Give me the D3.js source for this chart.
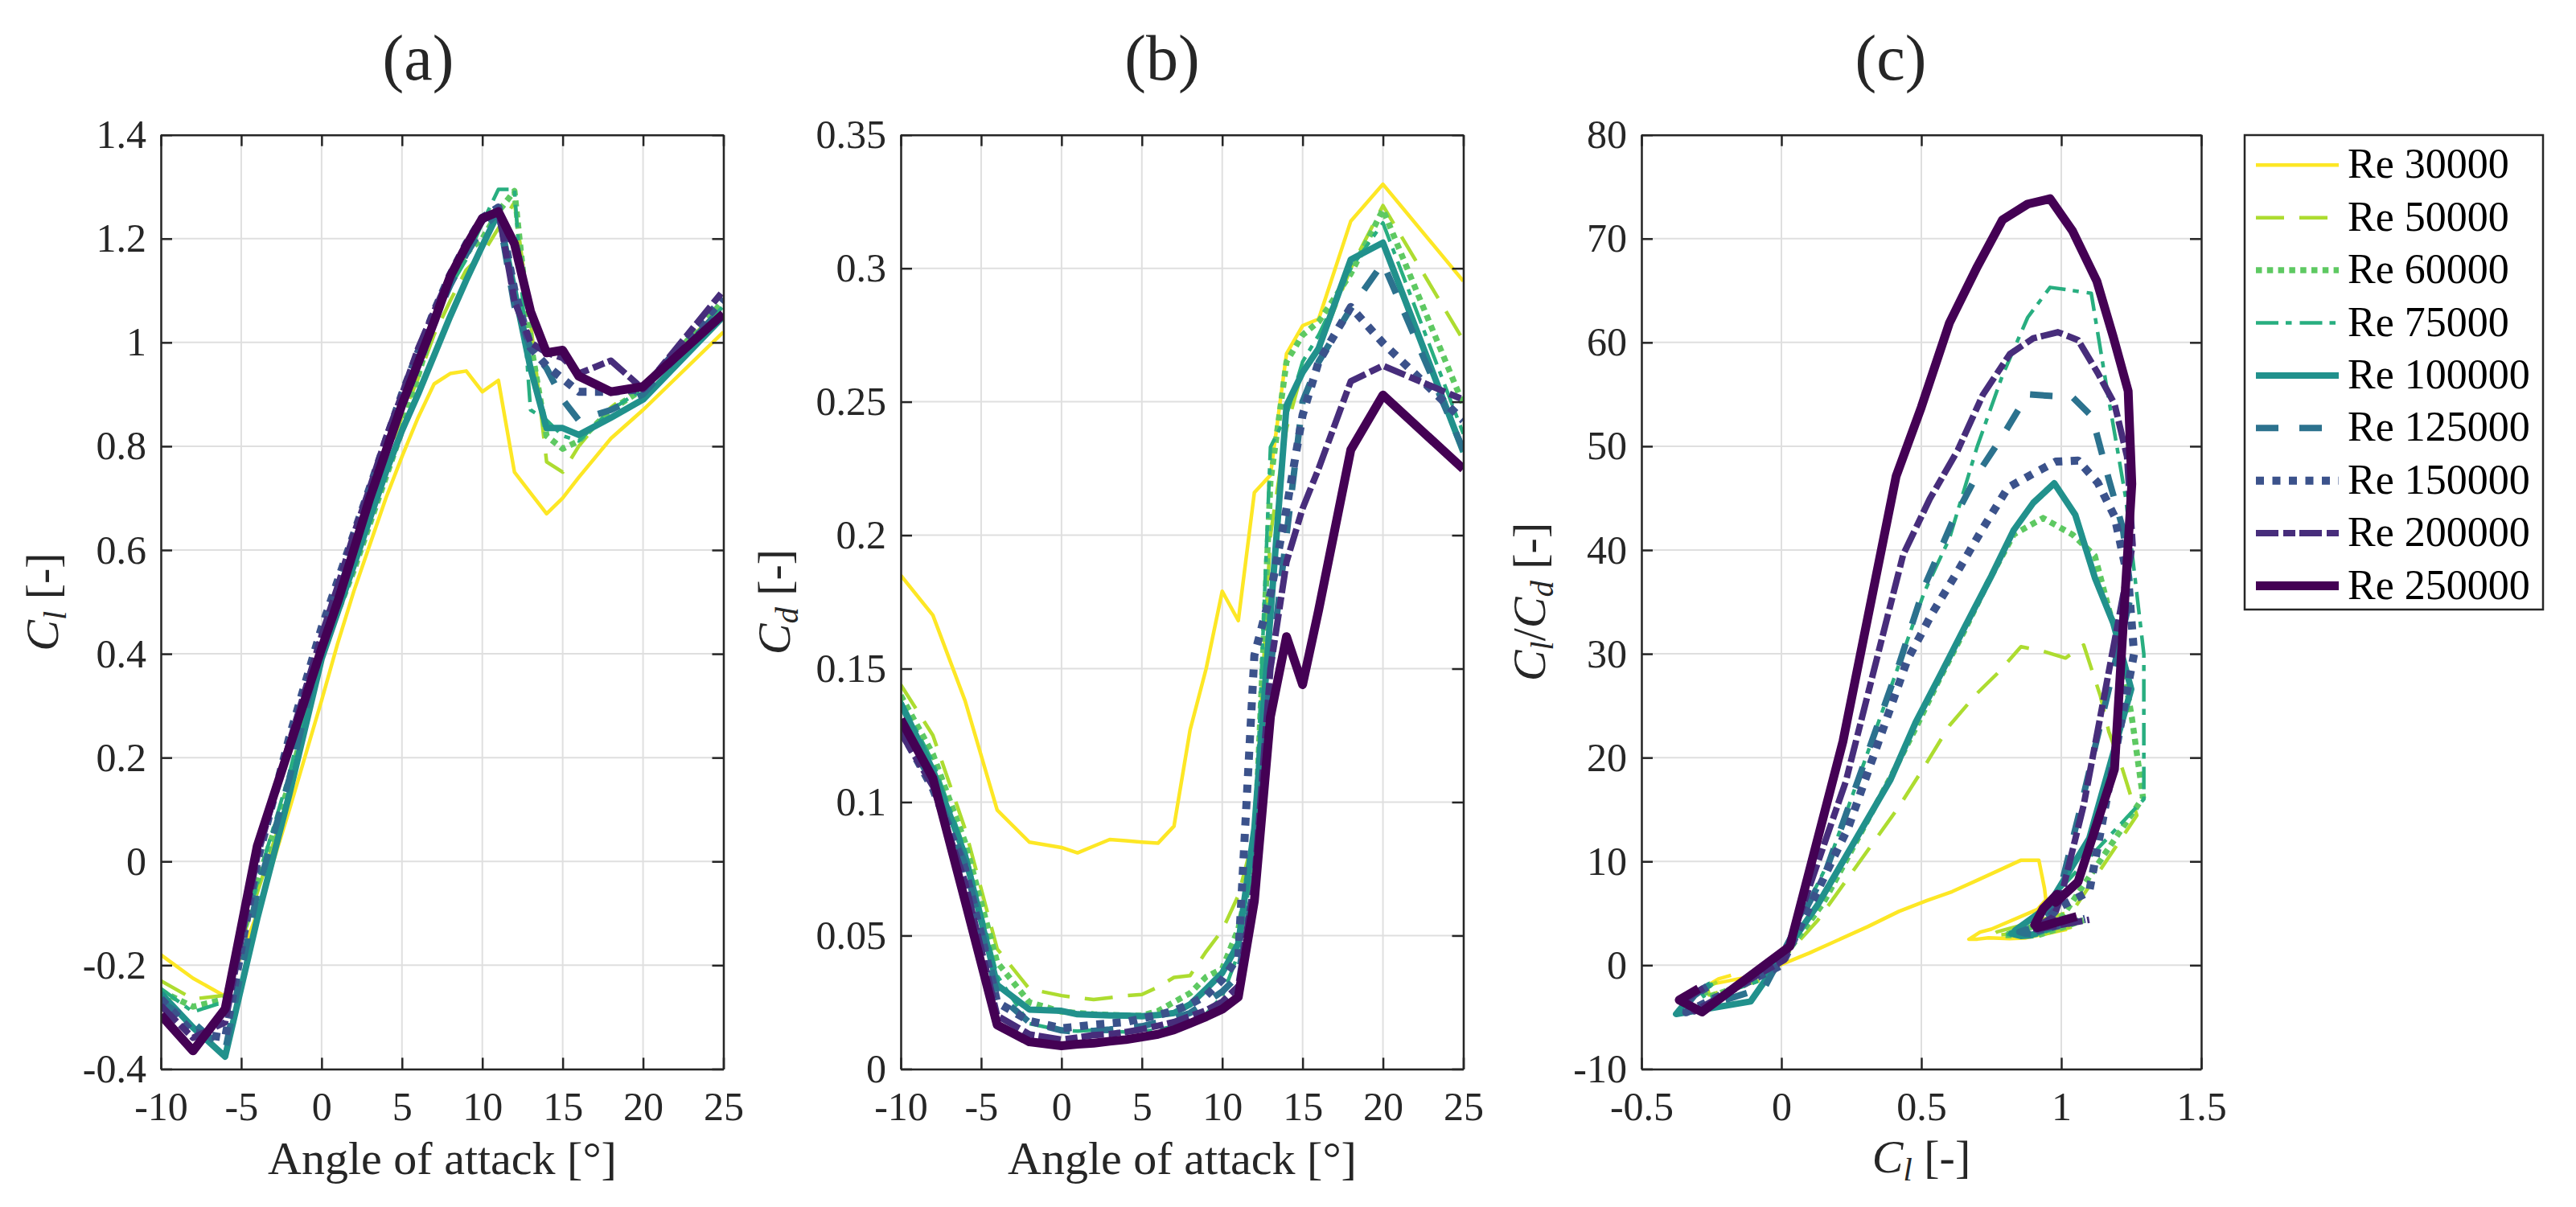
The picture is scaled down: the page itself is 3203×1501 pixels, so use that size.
<!DOCTYPE html>
<html><head><meta charset="utf-8">
<script src="https://cdn.jsdelivr.net/npm/d3@7"></script>
<style>body{margin:0;background:#fff;} svg{display:block;}</style>
</head><body>
<svg id="chart" width="3203" height="1501"></svg>
<script>
// ---------------- DATA ----------------
const angles = [-10,-8,-6,-4,-2,0,1,2,3,4,5,6,7,8,9,10,11,12,13,14,15,16,18,20,25];
const reLabels = ["Re 30000","Re 50000","Re 60000","Re 75000","Re 100000","Re 125000","Re 150000","Re 200000","Re 250000"];

const cl30000  = [-0.18,-0.225,-0.26,-0.10,0.10,0.31,0.42,0.52,0.61,0.70,0.78,0.855,0.92,0.94,0.945,0.905,0.927,0.75,0.71,0.67,0.70,0.74,0.815,0.87,1.02];
const cd30000  = [0.185,0.170,0.138,0.097,0.085,0.083,0.081,0.0835,0.086,0.0855,0.085,0.0846,0.091,0.127,0.150,0.179,0.168,0.216,0.2225,0.268,0.2785,0.281,0.3177,0.3315,0.2952];
const cl50000  = [-0.23,-0.265,-0.258,-0.06,0.13,0.42,0.51,0.60,0.70,0.777,0.856,0.93,1.015,1.08,1.14,1.17,1.22,1.27,1.04,0.77,0.75,0.80,0.875,0.92,1.07];
const cd50000  = [0.144,0.125,0.09,0.045,0.030,0.0275,0.0267,0.026,0.0267,0.0275,0.0279,0.0307,0.0343,0.035,0.044,0.052,0.065,0.088,0.20,0.24,0.262,0.27,0.30,0.3235,0.273];
const cl60000  = [-0.25,-0.28,-0.265,-0.04,0.15,0.40,0.48,0.56,0.65,0.74,0.83,0.935,1.041,1.12,1.173,1.20,1.252,1.292,1.00,0.82,0.795,0.81,0.87,0.91,1.08];
const cd60000  = [0.14,0.118,0.085,0.04,0.025,0.0215,0.021,0.0205,0.0203,0.020,0.020,0.0217,0.0251,0.0284,0.0345,0.0376,0.0524,0.080,0.22,0.265,0.275,0.28,0.298,0.322,0.249];
const cl75000  = [-0.245,-0.29,-0.27,-0.04,0.17,0.42,0.51,0.60,0.70,0.79,0.88,0.96,1.04,1.107,1.16,1.23,1.295,1.295,0.87,0.85,0.82,0.81,0.87,0.91,1.07];
const cd75000  = [0.138,0.115,0.082,0.035,0.017,0.0145,0.0142,0.0146,0.014,0.0139,0.0141,0.0147,0.016,0.0171,0.0207,0.0273,0.0432,0.081,0.233,0.245,0.265,0.275,0.30,0.317,0.238];
const cl100000 = [-0.254,-0.32,-0.376,-0.11,0.13,0.39,0.48,0.57,0.66,0.75,0.83,0.90,0.975,1.05,1.12,1.186,1.25,1.10,0.95,0.835,0.835,0.822,0.855,0.89,1.05];
const cd100000 = [0.137,0.112,0.08,0.0315,0.0223,0.0218,0.0205,0.0203,0.0201,0.020,0.0198,0.0202,0.021,0.0242,0.030,0.036,0.047,0.09,0.17,0.2485,0.261,0.270,0.3033,0.3096,0.2312];
const cl125000 = [-0.27,-0.31,-0.365,-0.06,0.16,0.42,0.51,0.61,0.70,0.79,0.88,0.96,1.04,1.11,1.17,1.22,1.25,1.07,0.99,0.95,0.89,0.85,0.87,0.90,1.07];
const cd125000 = [0.128,0.107,0.077,0.028,0.0175,0.0145,0.014,0.0143,0.0148,0.0155,0.016,0.0175,0.019,0.021,0.025,0.029,0.035,0.07,0.15,0.20,0.25,0.265,0.285,0.302,0.232];
const cl150000 = [-0.265,-0.33,-0.34,0.0,0.24,0.45,0.54,0.63,0.72,0.81,0.90,0.98,1.06,1.13,1.19,1.24,1.26,1.10,0.99,0.955,0.93,0.905,0.905,0.91,1.085];
const cd150000 = [0.127,0.105,0.075,0.025,0.018,0.0153,0.0159,0.0166,0.0171,0.0176,0.019,0.0202,0.0218,0.0243,0.0275,0.0335,0.042,0.155,0.178,0.21,0.245,0.265,0.2855,0.272,0.243];
const cl200000 = [-0.278,-0.34,-0.31,0.01,0.23,0.435,0.53,0.63,0.72,0.816,0.90,0.988,1.06,1.13,1.19,1.235,1.255,1.08,1.00,0.98,0.97,0.94,0.965,0.91,1.10];
const cd200000 = [0.126,0.106,0.07,0.02,0.013,0.011,0.0118,0.0127,0.0131,0.01386,0.0149,0.0162,0.0176,0.0198,0.022,0.0252,0.031,0.07,0.15,0.19,0.21,0.225,0.2577,0.2635,0.2508];
const cl250000 = [-0.296,-0.365,-0.284,0.03,0.22,0.41,0.50,0.60,0.70,0.79,0.88,0.96,1.04,1.127,1.186,1.239,1.252,1.19,1.06,0.98,0.985,0.935,0.905,0.915,1.055];
const cd250000 = [0.131,0.109,0.063,0.0165,0.0102,0.0087,0.0093,0.0097,0.0104,0.011,0.012,0.013,0.0147,0.0171,0.0196,0.0224,0.027,0.063,0.132,0.162,0.144,0.172,0.232,0.2525,0.2248];

const aoaTicks = [-10,-5,0,5,10,15,20,25];
const aoaTickLabels = ["-10","-5","0","5","10","15","20","25"];
const clTicks = [-0.4,-0.2,0,0.2,0.4,0.6,0.8,1,1.2,1.4];
const clTickLabels = ["-0.4","-0.2","0","0.2","0.4","0.6","0.8","1","1.2","1.4"];
const cdTicks = [0,0.05,0.1,0.15,0.2,0.25,0.3,0.35];
const cdTickLabels = ["0","0.05","0.1","0.15","0.2","0.25","0.3","0.35"];
const clxTicks = [-0.5,0,0.5,1,1.5];
const clxTickLabels = ["-0.5","0","0.5","1","1.5"];
const ldTicks = [-10,0,10,20,30,40,50,60,70,80];
const ldTickLabels = ["-10","0","10","20","30","40","50","60","70","80"];

// ---------------- STYLES ----------------
const colors = ["#fde725","#addc30","#5ec962","#28ae80","#21918c","#2c728e","#3b528b","#472d7b","#440154"];
const widths = [4.5,4.5,7.5,4.5,8,8,10,8,11];
const dashes = [null,"35,19","7.5,6.3","28,9,7.5,10",null,"28,26","10,10.5","28,6,15,5",null];

const clData = [cl30000,cl50000,cl60000,cl75000,cl100000,cl125000,cl150000,cl200000,cl250000];
const cdData = [cd30000,cd50000,cd60000,cd75000,cd100000,cd125000,cd150000,cd200000,cd250000];
const series = reLabels.map((name,i)=>({name, cl:clData[i], cd:cdData[i]}));

const FONT = "'Liberation Serif','Times New Roman',serif";
const AX = "#262626";
const TICK_FS = 50;
const svg = d3.select("#chart");
svg.append("rect").attr("width",3203).attr("height",1501).attr("fill","#fff");
const defs = svg.append("defs");

function styleLine(sel,i){
  sel.attr("fill","none").attr("stroke",colors[i]).attr("stroke-width",widths[i])
     .attr("stroke-linejoin","round").attr("stroke-linecap","butt");
  if(dashes[i]) sel.attr("stroke-dasharray",dashes[i]);
}

function richLabel(parent, parts, size){
  const t = parent.append("text").attr("font-family",FONT).attr("font-size",size).attr("fill",AX);
  parts.forEach(p=>{
    const ts = t.append("tspan").text(p.t);
    if(p.it) ts.attr("font-style","italic");
    if(p.sub) ts.attr("font-size",size*0.7).attr("dy",size*0.17);
    if(p.up) ts.attr("dy",-size*0.17);
  });
  return t;
}

function panel(cfg){
  const {id,x0,x1,y0,y1,xDomain,yDomain,xTicks,xLabels,yTicks,yLabels,px,py} = cfg;
  const x = d3.scaleLinear().domain(xDomain).range([x0,x1]);
  const y = d3.scaleLinear().domain(yDomain).range([y1,y0]);
  const g = svg.append("g");
  g.append("g").selectAll("line").data(xTicks).join("line")
    .attr("x1",d=>x(d)).attr("x2",d=>x(d)).attr("y1",y0).attr("y2",y1)
    .attr("stroke","#dfdfdf").attr("stroke-width",2);
  g.append("g").selectAll("line").data(yTicks).join("line")
    .attr("y1",d=>y(d)).attr("y2",d=>y(d)).attr("x1",x0).attr("x2",x1)
    .attr("stroke","#dfdfdf").attr("stroke-width",2);
  defs.append("clipPath").attr("id","clip"+id).append("rect")
    .attr("x",x0).attr("y",y0).attr("width",x1-x0).attr("height",y1-y0);
  const lg = g.append("g").attr("clip-path",`url(#clip${id})`);
  const line = d3.line().x(d=>x(d[0])).y(d=>y(d[1]));
  series.forEach((s,i)=>{
    const pts = angles.map((a,j)=>[px(s,j,a), py(s,j,a)]);
    lg.append("path").attr("d",line(pts)).call(styleLine,i);
  });
  const fmtX = (d,i)=>xLabels[i], fmtY=(d,i)=>yLabels[i];
  const styleAxis = sel=>{
    sel.attr("font-family",FONT).attr("font-size",TICK_FS).attr("color",AX);
    sel.selectAll("path,line").attr("stroke",AX).attr("stroke-width",2.5);
  };
  g.append("g").attr("transform",`translate(0,${y1})`)
    .call(d3.axisBottom(x).tickValues(xTicks).tickFormat(fmtX).tickSizeInner(-14).tickSizeOuter(0).tickPadding(28))
    .call(styleAxis);
  g.append("g").attr("transform",`translate(0,${y0})`)
    .call(d3.axisTop(x).tickValues(xTicks).tickFormat(()=>"").tickSizeInner(-14).tickSizeOuter(0))
    .call(styleAxis);
  g.append("g").attr("transform",`translate(${x0},0)`)
    .call(d3.axisLeft(y).tickValues(yTicks).tickFormat(fmtY).tickSizeInner(-14).tickSizeOuter(0).tickPadding(18))
    .call(styleAxis);
  g.append("g").attr("transform",`translate(${x1},0)`)
    .call(d3.axisRight(y).tickValues(yTicks).tickFormat(()=>"").tickSizeInner(-14).tickSizeOuter(0))
    .call(styleAxis);
  return {x,y,g};
}

const Y0 = 167.7, Y1 = 1329.4;
panel({id:"a",x0:200,x1:899.5,y0:Y0,y1:Y1,xDomain:[-10,25],yDomain:[-0.4,1.4],
  xTicks:aoaTicks,xLabels:aoaTickLabels,yTicks:clTicks,yLabels:clTickLabels,
  px:(s,j,a)=>a, py:(s,j)=>s.cl[j]});
panel({id:"b",x0:1120,x1:1819.5,y0:Y0,y1:Y1,xDomain:[-10,25],yDomain:[0,0.35],
  xTicks:aoaTicks,xLabels:aoaTickLabels,yTicks:cdTicks,yLabels:cdTickLabels,
  px:(s,j,a)=>a, py:(s,j)=>s.cd[j]});
panel({id:"c",x0:2041,x1:2737,y0:Y0,y1:Y1,xDomain:[-0.5,1.5],yDomain:[-10,80],
  xTicks:clxTicks,xLabels:clxTickLabels,yTicks:ldTicks,yLabels:ldTickLabels,
  px:(s,j)=>s.cl[j], py:(s,j)=>s.cl[j]/s.cd[j]});

// titles
[["(a)",520],["(b)",1445],["(c)",2351]].forEach(([t,cx])=>{
  svg.append("text").attr("x",cx).attr("y",99).attr("text-anchor","middle")
    .attr("font-family",FONT).attr("font-size",80).attr("fill",AX).text(t);
});

// x labels
svg.append("text").attr("x",550).attr("y",1460).attr("text-anchor","middle")
  .attr("font-family",FONT).attr("font-size",58).attr("fill",AX).text("Angle of attack [°]");
svg.append("text").attr("x",1470).attr("y",1460).attr("text-anchor","middle")
  .attr("font-family",FONT).attr("font-size",58).attr("fill",AX).text("Angle of attack [°]");
richLabel(svg,[{t:"C",it:true},{t:"l",it:true,sub:true},{t:" [-]",up:true}],58)
  .attr("x",2389).attr("y",1458).attr("text-anchor","middle");

// y labels (rotated)
const ymid = (Y0+Y1)/2;
richLabel(svg.append("g").attr("transform",`translate(72,${ymid}) rotate(-90)`),
  [{t:"C",it:true},{t:"l",it:true,sub:true},{t:" [-]",up:true}],58).attr("text-anchor","middle");
richLabel(svg.append("g").attr("transform",`translate(982,${ymid}) rotate(-90)`),
  [{t:"C",it:true},{t:"d",it:true,sub:true},{t:" [-]",up:true}],58).attr("text-anchor","middle");
richLabel(svg.append("g").attr("transform",`translate(1921,${ymid}) rotate(-90)`),
  [{t:"C",it:true},{t:"l",it:true,sub:true},{t:"/",up:true},{t:"C",it:true},{t:"d",it:true,sub:true},{t:" [-]",up:true}],58).attr("text-anchor","middle");

// legend
const leg = svg.append("g");
leg.append("rect").attr("x",2791).attr("y",168).attr("width",371).attr("height",590)
  .attr("fill","#fff").attr("stroke",AX).attr("stroke-width",2.5);
reLabels.forEach((name,i)=>{
  const yy = 205.3 + i*65.4;
  leg.append("line").attr("x1",2805).attr("x2",2908).attr("y1",yy).attr("y2",yy).call(styleLine,i);
  leg.append("text").attr("x",2919).attr("y",yy+16).attr("font-family",FONT).attr("font-size",52)
    .attr("fill","#000").text(name);
});
</script>
</body></html>
